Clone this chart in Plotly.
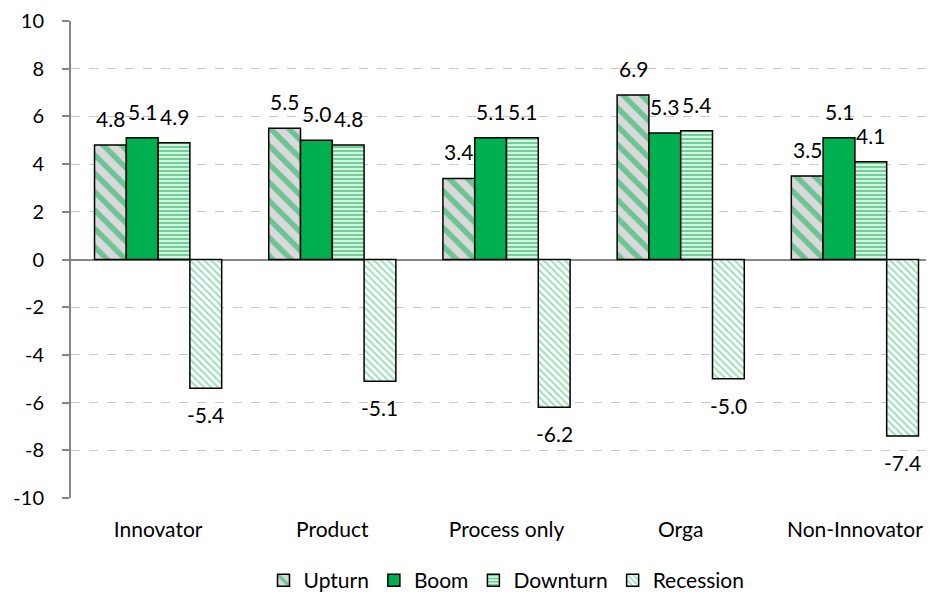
import plotly.graph_objects as go

categories = ["Innovator", "Product", "Process only", "Orga", "Non-Innovator"]
upturn = [4.8, 5.5, 3.4, 6.9, 3.5]
boom = [5.1, 5.0, 5.1, 5.3, 5.1]
downturn = [4.9, 4.8, 5.1, 5.4, 4.1]
recession = [-5.4, -5.1, -6.2, -5.0, -7.4]
series_names = ["Upturn", "Boom", "Downturn", "Recession"]
ytick_vals = [-10, -8, -6, -4, -2, 0, 2, 4, 6, 8, 10]
ytick_text = ["-10", "-8", "-6", "-4", "-2", "0", "2", "4", "6", "8", "10"]

GREEN = "#00b050"
FONT = "Lato, Carlito, Calibri, sans-serif"
BARGAP = 0.27

styles = [
    dict(color="#d9d9d9", pattern=dict(shape="\\", fgcolor=GREEN, bgcolor="#d9d9d9", size=13, solidity=0.42)),
    dict(color=GREEN),
    dict(color="#a8e0bd", pattern=dict(shape="-", fgcolor=GREEN, bgcolor="#d8f2e1", size=4, solidity=0.5)),
    dict(color="white", pattern=dict(shape="\\", fgcolor="#2fbf6f", bgcolor="white", size=5, solidity=0.38)),
]

all_series = [upturn, boom, downturn, recession]
fig = go.Figure()
for name, vals, st in zip(series_names, all_series, styles):
    fig.add_trace(go.Bar(
        name=name, x=categories, y=vals,
        marker=dict(**st, line=dict(color="black", width=1.5)),
    ))

# data labels placed via the category axis scale, offset per series within each group
n = len(all_series)
bw = (1 - BARGAP) / n
for si, vals in enumerate(all_series):
    for ci, v in enumerate(vals):
        fig.add_annotation(
            x=ci + (si - (n - 1) / 2) * bw, y=v, xref="x", yref="y",
            text=f"{v:.1f}", showarrow=False,
            yanchor="bottom" if v >= 0 else "top",
            yshift=12 if v >= 0 else -12,
            font=dict(family=FONT, size=21, color="black"),
        )

fig.update_layout(
    width=934, height=601,
    margin=dict(l=63, r=0, t=13, b=111, autoexpand=False),
    paper_bgcolor="white", plot_bgcolor="white",
    barmode="group", bargap=BARGAP, bargroupgap=0,
    font=dict(family=FONT, size=21, color="black"),
    showlegend=True,
    legend=dict(orientation="h", x=0.5, xanchor="center", y=-0.13, yanchor="top",
                font=dict(family=FONT, size=21), itemwidth=30, traceorder="normal"),
    xaxis=dict(type="category", range=[-0.5, 4.5], showgrid=False, showline=False,
               ticks="", ticklabelstandoff=17, automargin=False,
               tickfont=dict(family=FONT, size=21)),
    xaxis2=dict(overlaying="x", anchor="free", position=0.5, range=[-0.5, 4.5],
                tickvals=[0.5, 1.5, 2.5, 3.5], ticks="outside", ticklen=7,
                tickcolor="#868686", tickwidth=1.5, showticklabels=False,
                showgrid=False, showline=False, zeroline=False, automargin=False),
    yaxis=dict(range=[-10, 10], tickvals=ytick_vals, ticktext=ytick_text,
               showgrid=True, gridcolor="#c8c8c8",
               griddash="dash", gridwidth=1, zeroline=True, zerolinecolor="#868686",
               zerolinewidth=2, showline=True, linecolor="#868686", linewidth=2,
               ticks="outside", ticklen=7, tickcolor="#868686", tickwidth=1.5,
               ticklabelstandoff=14, ticklabeloverflow="allow", automargin=False,
               tickfont=dict(family=FONT, size=20)),
)

fig.write_html("out.html")
